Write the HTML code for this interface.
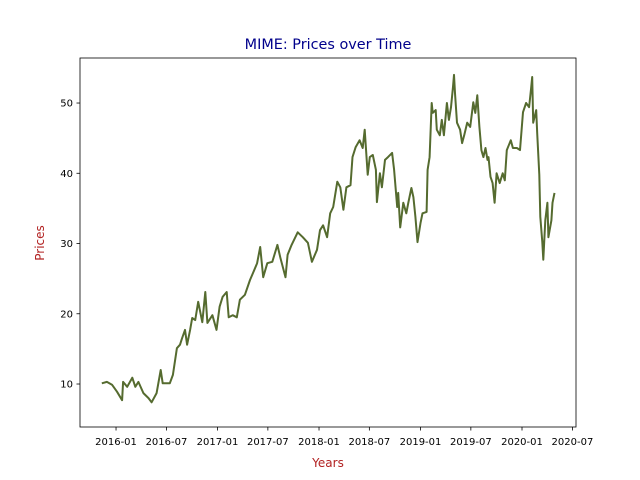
<!DOCTYPE html>
<html><head><meta charset="utf-8"><style>
body{margin:0;background:#fff;}
svg{display:block;font-family:"DejaVu Sans","Liberation Sans",sans-serif;}
</style></head><body>
<svg id="chart" width="640" height="480">
<rect width="640" height="480" fill="#fff"/>
<text x="328" y="49" text-anchor="middle" font-size="14.4" fill="#00008b">MIME: Prices over Time</text>
<text x="328" y="467" text-anchor="middle" font-size="12" fill="#b22222">Years</text>
<text x="44" y="243" text-anchor="middle" font-size="12" fill="#b22222" transform="rotate(-90 44 243)">Prices</text>
<g id="xt"></g><g id="yt"></g>
<path id="line" fill="none" stroke="#556b2f" stroke-width="2" stroke-linejoin="round"/>
<rect x="80" y="58" width="496" height="369" fill="none" stroke="#000" stroke-width="0.8"/>
</svg>
<script>
const years=[2015.86,2015.91,2015.96,2016.01,2016.06,2016.07,2016.11,2016.16,2016.19,2016.22,2016.27,2016.32,2016.35,2016.40,2016.44,2016.46,2016.53,2016.56,2016.60,2016.63,2016.65,2016.68,2016.70,2016.73,2016.75,2016.78,2016.81,2016.85,2016.88,2016.90,2016.95,2016.99,2017.02,2017.05,2017.09,2017.11,2017.15,2017.19,2017.22,2017.27,2017.32,2017.35,2017.39,2017.42,2017.45,2017.49,2017.54,2017.59,2017.62,2017.67,2017.69,2017.73,2017.79,2017.84,2017.89,2017.93,2017.98,2018.01,2018.04,2018.08,2018.11,2018.14,2018.18,2018.21,2018.24,2018.27,2018.31,2018.33,2018.36,2018.40,2018.43,2018.45,2018.48,2018.50,2018.53,2018.56,2018.57,2018.60,2018.62,2018.65,2018.68,2018.72,2018.74,2018.77,2018.78,2018.80,2018.83,2018.86,2018.88,2018.91,2018.93,2018.95,2018.97,2019.00,2019.02,2019.06,2019.07,2019.09,2019.11,2019.12,2019.15,2019.16,2019.19,2019.21,2019.23,2019.26,2019.28,2019.30,2019.32,2019.33,2019.34,2019.36,2019.39,2019.41,2019.43,2019.46,2019.49,2019.52,2019.54,2019.56,2019.58,2019.60,2019.62,2019.64,2019.66,2019.67,2019.69,2019.71,2019.73,2019.75,2019.78,2019.81,2019.83,2019.85,2019.89,2019.91,2019.95,2019.98,2020.01,2020.04,2020.07,2020.09,2020.10,2020.11,2020.14,2020.15,2020.17,2020.18,2020.20,2020.21,2020.23,2020.25,2020.26,2020.29,2020.30,2020.32];
const prices=[10.1,10.3,9.9,8.9,7.7,10.3,9.6,10.9,9.6,10.3,8.7,8.0,7.4,8.7,12.0,10.1,10.1,11.3,15.1,15.6,16.5,17.7,15.6,17.7,19.4,19.1,21.7,18.8,23.1,18.7,19.8,17.7,21.0,22.4,23.1,19.5,19.8,19.5,22.0,22.7,24.8,25.8,27.2,29.5,25.2,27.2,27.4,29.8,27.9,25.2,28.4,29.8,31.6,30.9,30.1,27.4,29.1,31.9,32.6,30.9,34.3,35.2,38.8,38.0,34.8,38.0,38.3,42.3,43.7,44.7,43.6,46.2,39.8,42.3,42.6,40.5,35.9,40.0,38.0,41.9,42.3,42.9,40.5,35.2,37.2,32.3,35.8,34.3,35.8,37.9,36.6,33.8,30.2,32.9,34.3,34.5,40.5,42.3,50.0,48.6,49.0,46.2,45.4,47.6,45.4,50.0,47.6,49.4,52.3,54.0,51.4,47.2,46.2,44.3,45.4,47.2,46.6,50.1,48.6,51.1,46.6,43.3,42.3,43.6,41.9,42.3,39.5,38.6,35.8,40.0,38.6,40.0,39.0,43.3,44.7,43.6,43.6,43.3,48.7,50.0,49.4,52.1,53.7,47.2,49.0,45.7,39.8,33.8,30.2,27.7,33.3,35.8,30.9,33.3,35.8,37.2];
const xTickVals=[2016,2016.497,2017,2017.496,2018,2018.496,2019,2019.496,2020,2020.497];
const xTickLabels=["2016-01","2016-07","2017-01","2017-07","2018-01","2018-07","2019-01","2019-07","2020-01","2020-07"];
const yTickVals=[10,20,30,40,50];
const X0=80,X1=576,Y0=427,Y1=58,xmin=2015.645,xmax=2020.532,ymin=3.88,ymax=56.41;
const sx=v=>X0+(v-xmin)/(xmax-xmin)*(X1-X0);
const sy=v=>Y0-(v-ymin)/(ymax-ymin)*(Y0-Y1);
const NS="http://www.w3.org/2000/svg";
const xt=document.getElementById('xt'),yt=document.getElementById('yt');
xTickVals.forEach((v,i)=>{
 const x=sx(v);
 const l=document.createElementNS(NS,'line');
 l.setAttribute('x1',x);l.setAttribute('x2',x);l.setAttribute('y1',427);l.setAttribute('y2',430.5);l.setAttribute('stroke','#000');l.setAttribute('stroke-width','0.8');
 
 
 xt.appendChild(l);
 const t=document.createElementNS(NS,'text');
 t.setAttribute('x',x);t.setAttribute('y',445);t.setAttribute('text-anchor','middle');t.setAttribute('font-size','10');
 t.textContent=xTickLabels[i];
 
 
 xt.appendChild(t);
});
yTickVals.forEach(v=>{
 const y=sy(v);
 const l=document.createElementNS(NS,'line');
 l.setAttribute('x1',76.5);l.setAttribute('x2',80);l.setAttribute('y1',y);l.setAttribute('y2',y);l.setAttribute('stroke','#000');l.setAttribute('stroke-width','0.8');
 
 
 yt.appendChild(l);
 const t=document.createElementNS(NS,'text');
 t.setAttribute('x',73);t.setAttribute('y',y+3.5);t.setAttribute('text-anchor','end');t.setAttribute('font-size','10');
 t.textContent=String(v);
 
 
 yt.appendChild(t);
});
document.getElementById('line').setAttribute('d',years.map((v,i)=>(i?'L':'M')+sx(v).toFixed(1)+','+sy(prices[i]).toFixed(1)).join(''));
</script>
</body></html>
